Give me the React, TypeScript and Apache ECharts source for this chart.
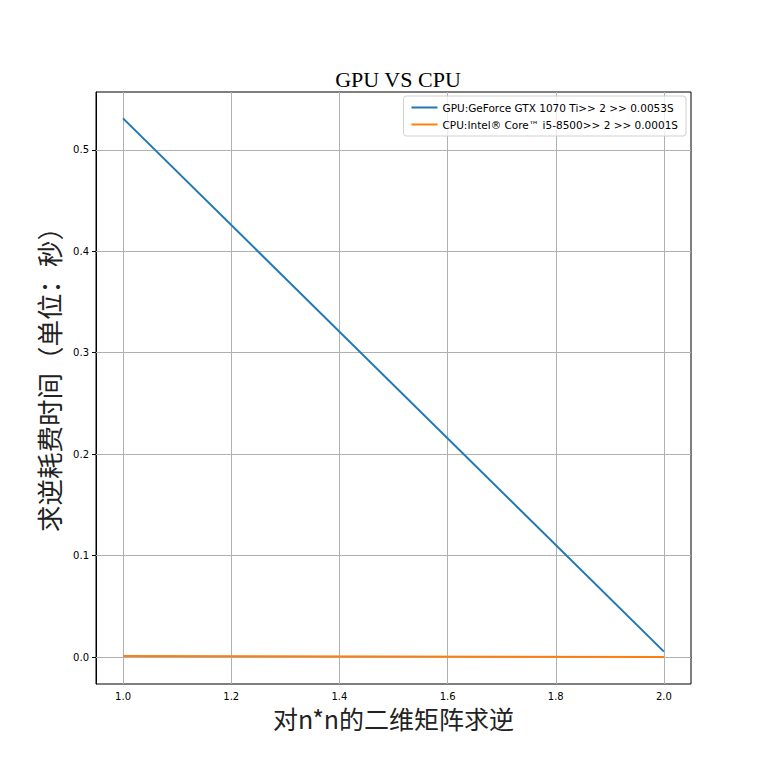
import React, { useEffect, useRef } from "react";
import * as echarts from "echarts";

const xValues = [1.0, 2.0];
const gpuTimes = [0.531, 0.0053];
const cpuTimes = [0.0009, 0.0001];
const xTicks = [1.0, 1.2, 1.4, 1.6, 1.8, 2.0];
const yTicks = [0.0, 0.1, 0.2, 0.3, 0.4, 0.5];
const gpuName = "GPU:GeForce GTX 1070 Ti>> 2 >> 0.0053S";
const cpuName = "CPU:Intel® Core™ i5-8500>> 2 >> 0.0001S";
const titleText = "GPU VS CPU";
const xLabel = "对n*n的二维矩阵求逆";
const yLabel = "求逆耗费时间（单位：秒）";

export default function App() {
  const ref = useRef<HTMLDivElement>(null);
  useEffect(() => {
    if (!ref.current) return;
    const chart = echarts.init(ref.current, null, { renderer: "svg" });
    const gridColor = "#b0b0b0";
    const markX = xTicks.map((v) => ({ xAxis: v }));
    const markY = yTicks.map((v) => ({ yAxis: v }));
    chart.setOption({
      animation: false,
      backgroundColor: "#ffffff",
      title: {
        text: titleText,
        left: 393,
        textAlign: "center",
        top: 63,
        textStyle: { fontFamily: "Liberation Serif", fontSize: 22, fontWeight: "normal", color: "#000" },
      },
      legend: {
        orient: "vertical",
        right: 82,
        top: 96,
        padding: [6, 8, 6, 8],
        itemGap: 6,
        itemWidth: 26,
        itemHeight: 2,
        icon: "rect",
        borderColor: "#d0d0d0",
        borderWidth: 1,
        borderRadius: 3,
        backgroundColor: "rgba(255,255,255,0.8)",
        textStyle: { fontFamily: "DejaVu Sans", fontSize: 10.5, color: "#000" },
        data: [gpuName, cpuName],
      },
      grid: {
        left: 96,
        right: 77,
        top: 92,
        bottom: 84,
        show: true,
        borderColor: "#000",
        borderWidth: 1,
      },
      xAxis: {
        type: "value",
        min: 0.95,
        max: 2.05,
        name: xLabel,
        nameLocation: "middle",
        nameGap: 19,
        nameTextStyle: { fontFamily: "Noto Sans CJK SC", fontSize: 25, color: "#222", verticalAlign: "top" },
        axisLine: { show: true, lineStyle: { color: "#000" } },
        axisTick: { show: true, customValues: xTicks, length: 4, lineStyle: { color: "#000" } },
        axisLabel: {
          customValues: xTicks,
          fontFamily: "DejaVu Sans",
          fontSize: 10,
          color: "#000",
          margin: 7,
          formatter: (v: number) => v.toFixed(1),
        },
        splitLine: { show: false },
      },
      yAxis: {
        type: "value",
        min: -0.0266,
        max: 0.557,
        name: yLabel,
        nameLocation: "middle",
        nameGap: 33,
        nameTextStyle: { fontFamily: "Noto Sans CJK SC", fontSize: 26.5, color: "#222", padding: [0, 0, 0, 30] },
        axisLine: { show: true, lineStyle: { color: "#000" } },
        axisTick: { show: true, customValues: yTicks, length: 4, lineStyle: { color: "#000" } },
        axisLabel: {
          customValues: yTicks,
          fontFamily: "DejaVu Sans",
          fontSize: 10,
          color: "#000",
          margin: 7,
          formatter: (v: number) => v.toFixed(1),
        },
        splitLine: { show: false },
      },
      series: [
        {
          name: gpuName,
          type: "line",
          data: xValues.map((x, i) => [x, gpuTimes[i]]),
          showSymbol: false,
          symbol: "none",
          lineStyle: { color: "#1f77b4", width: 2 },
          itemStyle: { color: "#1f77b4" },
          z: 3,
          markLine: {
            silent: true,
            symbol: "none",
            label: { show: false },
            lineStyle: { color: gridColor, width: 1, type: "solid" },
            data: [...markX, ...markY],
            z: 1,
          },
        },
        {
          name: cpuName,
          type: "line",
          data: xValues.map((x, i) => [x, cpuTimes[i]]),
          showSymbol: false,
          symbol: "none",
          lineStyle: { color: "#ff7f0e", width: 2 },
          itemStyle: { color: "#ff7f0e" },
          z: 3,
        },
      ],
    });
    return () => chart.dispose();
  }, []);
  return <div ref={ref} style={{ width: 768, height: 768, margin: -8 }} />;
}
